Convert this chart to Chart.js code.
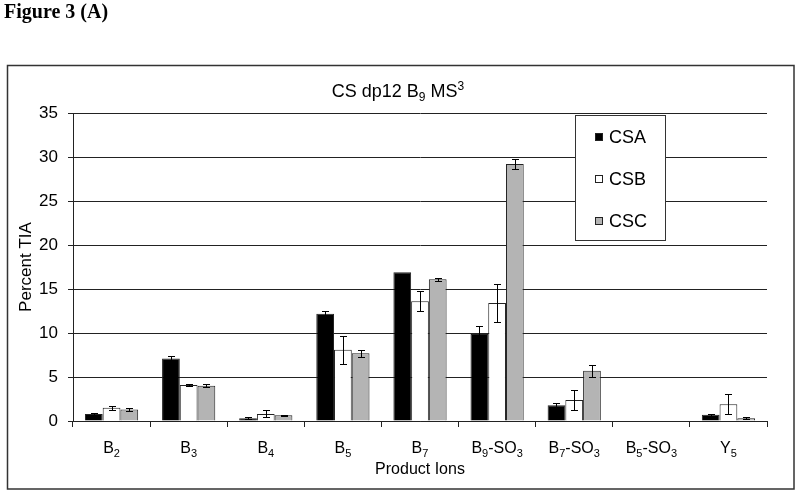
<!DOCTYPE html>
<html lang="en">
<head>
    <meta charset="UTF-8">
    <title>Figure 3 (A)</title>
    <script src="https://cdn.jsdelivr.net/npm/chart.js"></script>
    <style>
        body { margin: 0; background: #fff; }
        #wrap { position: relative; width: 800px; height: 495px; }
        #figLabel {
            position: absolute; left: 4px; top: 0px;
            font: bold 20px "Liberation Serif", "Times New Roman", serif;
            color: #000;
        }
        canvas { position: absolute; left: 0; top: 0; }
    </style>
</head>
<body>
<div id="wrap">
    <canvas id="graphe" width="800" height="495"></canvas>
    <div id="figLabel">Figure 3 (A)</div>
</div>
<script>
// "_x" = subscript, "^x" = superscript
const chartTitle = 'CS dp12 B_9 MS^3';
const categories = ['B_2', 'B_3', 'B_4', 'B_5', 'B_7', 'B_9-SO_3', 'B_7-SO_3', 'B_5-SO_3', 'Y_5'];
const seriesNames = ['CSA', 'CSB', 'CSC'];

const csa    = [0.8, 7.1, 0.3, 12.2, 16.9, 9.9, 1.8, 0, 0.7];
const csaErr = [0.1, 0.3, 0.1, 0.35, 0, 0.9, 0.2, 0, 0.1];
const csb    = [1.5, 4.1, 0.8, 8.1, 13.6, 13.4, 2.4, 0, 1.9];
const csbErr = [0.25, 0.1, 0.4, 1.6, 1.15, 2.2, 1.1, 0, 1.15];
const csc    = [1.3, 4.0, 0.65, 7.7, 16.1, 29.2, 5.7, 0, 0.3];
const cscErr = [0.2, 0.15, 0.05, 0.4, 0.15, 0.55, 0.65, 0, 0.1];

const yTicks = [0, 5, 10, 15, 20, 25, 30, 35];

const FONT = 'Liberation Sans, Arial, sans-serif';

// dessine un texte avec indices / exposants
function richText(ctx, str, x, y, size, align) {
    const parts = [];
    for (let i = 0; i < str.length; i++) {
        if ((str[i] === '_' || str[i] === '^') && i + 1 < str.length) {
            parts.push({ t: str[i + 1], mode: str[i] });
            i++;
        } else {
            parts.push({ t: str[i], mode: '' });
        }
    }
    const small = Math.round(size * 0.66);
    let total = 0;
    parts.forEach(p => {
        ctx.font = (p.mode ? small : size) + 'px ' + FONT;
        p.w = ctx.measureText(p.t).width;
        total += p.w;
    });
    let cx = align === 'center' ? x - total / 2 : x;
    ctx.textAlign = 'left';
    ctx.textBaseline = 'alphabetic';
    parts.forEach(p => {
        let dy = 0;
        if (p.mode === '_') dy = size * 0.22;
        if (p.mode === '^') dy = -size * 0.38;
        ctx.font = (p.mode ? small : size) + 'px ' + FONT;
        ctx.fillText(p.t, cx, y + dy);
        cx += p.w;
    });
}

const errorBars = {
    id: 'errorBars',
    afterDatasetsDraw(chart) {
        const ctx = chart.ctx;
        const yScale = chart.scales.y;
        ctx.save();
        ctx.strokeStyle = '#000';
        ctx.lineWidth = 1;
        chart.data.datasets.forEach((ds, i) => {
            const meta = chart.getDatasetMeta(i);
            meta.data.forEach((bar, j) => {
                const e = ds.err[j];
                if (!e) return;
                const v = ds.data[j];
                const top = Math.round(yScale.getPixelForValue(v + e)) + 0.5;
                const bot = Math.round(yScale.getPixelForValue(Math.max(0, v - e))) + 0.5;
                const x = Math.round(bar.x) + 0.5;
                ctx.beginPath();
                ctx.moveTo(x, top); ctx.lineTo(x, bot);
                ctx.moveTo(x - 3.5, top); ctx.lineTo(x + 3.5, top);
                ctx.moveTo(x - 3.5, bot); ctx.lineTo(x + 3.5, bot);
                ctx.stroke();
            });
        });
        ctx.restore();
    }
};

const decor = {
    id: 'decor',
    beforeDraw(chart) {
        const ctx = chart.ctx;
        ctx.save();
        ctx.fillStyle = '#fff';
        ctx.fillRect(0, 0, chart.width, chart.height);
        ctx.strokeStyle = '#333';
        ctx.lineWidth = 1.5;
        ctx.strokeRect(7.5, 65.5, 786.5, 423.5);
        ctx.restore();
    },
    afterDraw(chart) {
        const ctx = chart.ctx;
        const xs = chart.scales.x;
        ctx.save();
        ctx.fillStyle = '#000';
        richText(ctx, chartTitle, 398, 97, 18, 'center');
        categories.forEach((c, i) => {
            richText(ctx, c, xs.getPixelForValue(i), 453, 16, 'center');
        });

        // legende
        const bx = 575.5, by = 115.5, bw = 90, bh = 125;
        ctx.fillStyle = '#fff';
        ctx.fillRect(bx, by, bw, bh);
        ctx.strokeStyle = '#333';
        ctx.lineWidth = 1;
        ctx.strokeRect(bx, by, bw, bh);
        chart.data.datasets.forEach((ds, i) => {
            const cy = 138 + i * 42;
            ctx.fillStyle = ds.backgroundColor;
            ctx.fillRect(595.5, cy - 4.5, 7, 7);
            ctx.strokeStyle = '#222';
            ctx.strokeRect(595.5, cy - 4.5, 7, 7);
            ctx.fillStyle = '#000';
            ctx.font = '18px ' + FONT;
            ctx.textAlign = 'left';
            ctx.textBaseline = 'middle';
            ctx.fillText(ds.label, 609, cy);
        });
        ctx.restore();
    }
};

new Chart(document.getElementById('graphe').getContext('2d'), {
    type: 'bar',
    data: {
        labels: categories,
        datasets: [
            { label: seriesNames[0], data: csa, err: csaErr, backgroundColor: '#000000' },
            { label: seriesNames[1], data: csb, err: csbErr, backgroundColor: '#ffffff' },
            { label: seriesNames[2], data: csc, err: cscErr, backgroundColor: '#b4b4b4' }
        ]
    },
    options: {
        responsive: false,
        animation: false,
        layout: { padding: { left: 0, right: 33, top: 113, bottom: 0 } },
        datasets: {
            bar: {
                borderColor: '#222',
                borderWidth: 1,
                categoryPercentage: 0.69,
                barPercentage: 1.0
            }
        },
        plugins: {
            legend: { display: false },
            title: { display: false },
            tooltip: { enabled: false }
        },
        scales: {
            x: {
                afterFit: s => { s.height = 74; },
                grid: { drawOnChartArea: false, drawTicks: true, tickLength: 6, color: '#222', offset: true },
                border: { display: true, color: '#222', width: 1 },
                ticks: { display: false },
                title: {
                    display: true, text: 'Product Ions', color: '#000',
                    font: { family: FONT, size: 16 },
                    padding: { top: 0, bottom: 16 }
                }
            },
            y: {
                min: 0, max: 35,
                afterFit: s => { s.width = 73; },
                afterBuildTicks: s => { s.ticks = yTicks.map(v => ({ value: v })); },
                grid: { color: '#222', lineWidth: 1, drawTicks: true, tickLength: 5 },
                border: { display: true, color: '#222', width: 1 },
                ticks: {
                    color: '#000', padding: 10,
                    font: { family: FONT, size: 17 }
                },
                title: {
                    display: true, text: 'Percent TIA', color: '#000',
                    font: { family: FONT, size: 17 },
                    padding: { top: 16, bottom: 0 }
                }
            }
        }
    },
    plugins: [decor, errorBars]
});
</script>
</body>
</html>
